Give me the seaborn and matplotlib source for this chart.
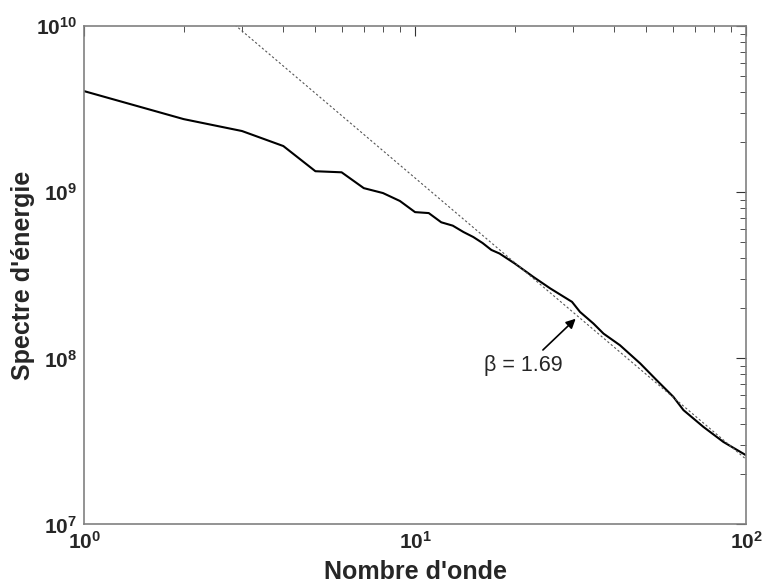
import numpy as np
import pandas as pd
import seaborn as sns
import matplotlib.pyplot as plt
from matplotlib.ticker import FixedLocator, FixedFormatter, LogLocator, NullFormatter

nombre_onde = [1, 2, 3, 4, 5, 6, 7, 8, 9, 10, 11, 12, 13, 14, 15, 16, 17, 18,
               20, 22.8, 25.6, 29.8, 31.5, 34.6, 37.1, 41.6, 47.9, 53.7, 60.3,
               64.7, 74.3, 85.4, 100]
spectre = [4.07e9, 2.76e9, 2.34e9, 1.90e9, 1.34e9, 1.32e9, 1.06e9, 0.99e9, 0.887e9,
           0.76e9, 0.75e9, 0.66e9, 0.63e9, 0.577e9, 0.538e9, 0.495e9, 0.45e9, 0.428e9,
           3.73e8, 3.09e8, 2.64e8, 2.19e8, 1.905e8, 1.62e8, 1.41e8, 1.20e8, 9.32e7,
           7.39e7, 5.87e7, 4.88e7, 3.87e7, 3.14e7, 2.61e7]

# droite de pente beta (extrémités)
fit_k = [1, 100]
fit_e = [6.03e10, 2.47e7]

sns.set_style('white')
plt.rcParams['font.family'] = ['Liberation Sans', 'DejaVu Sans']
plt.rcParams['mathtext.fontset'] = 'custom'
plt.rcParams['mathtext.rm'] = 'Liberation Sans:bold'
plt.rcParams['mathtext.bf'] = 'Liberation Sans:bold'

fig = plt.figure(figsize=(7.64, 5.84), dpi=100)
ax = fig.add_axes([0.110, 0.102, 0.8665, 0.853])

df = pd.DataFrame({'k': nombre_onde, 'E': spectre})
sns.lineplot(data=df, x='k', y='E', ax=ax, color='black', linewidth=1.5)
ax.plot(fit_k, fit_e, color='#555555', linewidth=0.8, linestyle=(0, (2, 2)))

ax.set_xscale('log')
ax.set_yscale('log')
ax.set_xlim(1, 100)
ax.set_ylim(1e7, 1e10)

ax.xaxis.set_major_locator(FixedLocator([1, 10, 100]))
ax.xaxis.set_major_formatter(FixedFormatter([r'$\mathbf{10^{0}}$', r'$\mathbf{10^{1}}$', r'$\mathbf{10^{2}}$']))
ax.yaxis.set_major_locator(FixedLocator([1e7, 1e8, 1e9, 1e10]))
ax.yaxis.set_major_formatter(FixedFormatter([r'$\mathbf{10^{7}}$', r'$\mathbf{10^{8}}$',
                                             r'$\mathbf{10^{9}}$', r'$\mathbf{10^{10}}$']))
ax.xaxis.set_minor_locator(LogLocator(base=10, subs=np.arange(2, 10)))
ax.yaxis.set_minor_locator(LogLocator(base=10, subs=np.arange(2, 10)))
ax.xaxis.set_minor_formatter(NullFormatter())
ax.yaxis.set_minor_formatter(NullFormatter())

ax.tick_params(which='both', direction='in', top=True, right=True, color='#333333')
ax.tick_params(which='major', length=7, width=0.8, labelsize=15, pad=5)
ax.tick_params(which='minor', length=4, width=0.6)
for s in ax.spines.values():
    s.set_color('#808080')
    s.set_linewidth(1.2)

ax.set_xlabel("Nombre d'onde", fontsize=18, fontweight='bold', labelpad=0)
ax.set_ylabel("Spectre d'énergie", fontsize=18, fontweight='bold')
ax.yaxis.set_label_coords(-0.074, 0.5)
ax.xaxis.set_label_coords(0.5, -0.072)

ax.annotate('', xy=(31.0, 1.78e8), xytext=(24.0, 1.094e8),
            arrowprops=dict(arrowstyle='-|>', color='black', lw=1.2, mutation_scale=14))
ax.text(16.1, 9.1e7, 'β = 1.69', fontsize=15.5, va='center', ha='left')

fig.savefig('out.png', dpi=100)
